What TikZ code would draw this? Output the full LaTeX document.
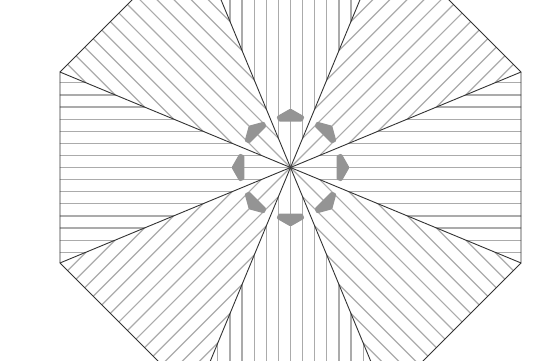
\documentclass[tikz,border=0pt]{standalone}
\usepackage{tikz}

\begin{document}
\begin{tikzpicture}[
        x=1pt, y=1pt,
        hatch/.style={draw=black!33, line width=1.2pt},
        spoke/.style={draw=black!80, line width=0.9pt, line join=round},
        marker/.style={fill=black!42, rounded corners=1.2pt}
    ]
    \def\rad{249.5}
    \fill [white] (-290.5,-192.5) rectangle (250.5,167.5);
    \clip (-290.5,-192.5) rectangle (250.5,167.5);
    % octagon corners
    \foreach \i in {0,...,7}
        \coordinate (v\i) at (22.5+45*\i:\rad);
    \coordinate (hub) at (0,0);
    % hatching, one wedge at a time
    \foreach \a in {0,45,...,315} {
        \begin{scope}[rotate=\a]
            \clip (hub) -- (22.5:\rad) -- (-22.5:\rad) -- cycle;
            \foreach \y in {-96.8,-84.7,...,97}
                \path [hatch] (0,\y) -- (\rad,\y);
        \end{scope}
    }
    \foreach \i [evaluate=\i as \j using {int(mod(\i+1,8))}] in {0,...,7}
        \path [spoke] (hub) -- (v\i) -- (v\j);
    % ring of markers
    \foreach \a in {0,45,...,315}
        \fill [marker, rotate=\a] (46,-12) -- (51,-14) -- (59,0) -- (51,14) -- (46,12) -- cycle;
\end{tikzpicture}
\end{document}
